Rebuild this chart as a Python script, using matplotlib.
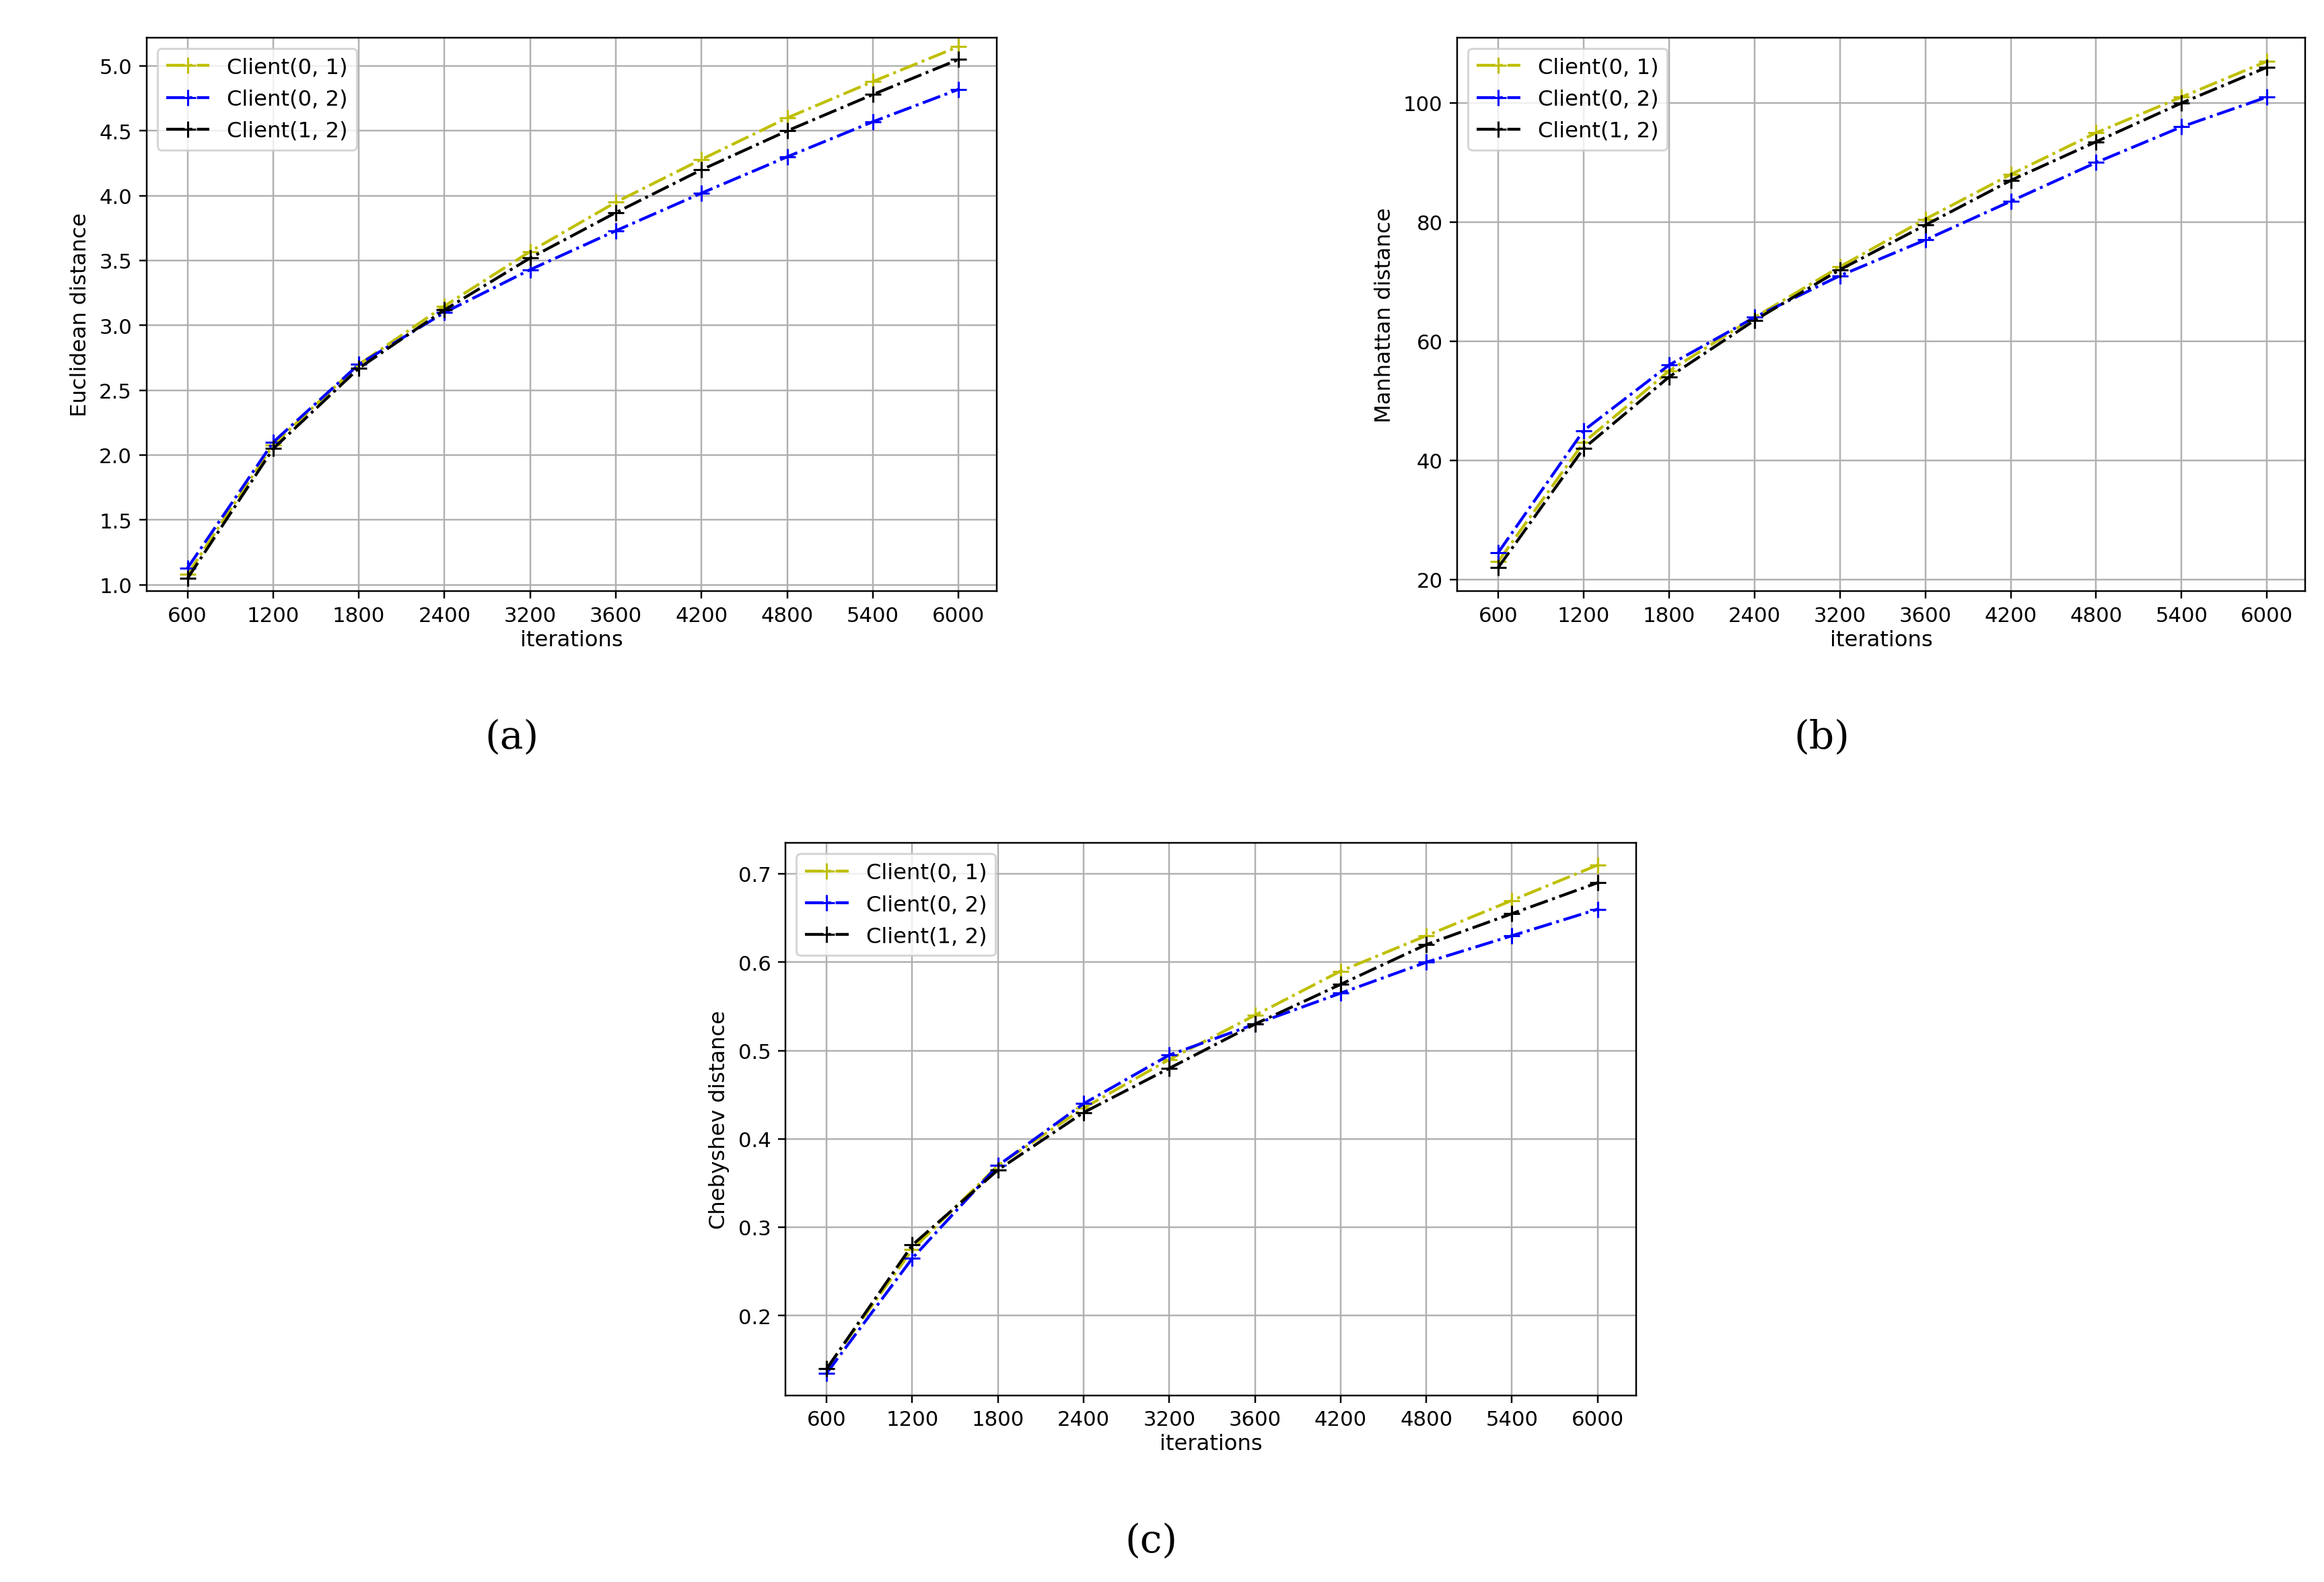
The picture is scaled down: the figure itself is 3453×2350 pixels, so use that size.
import matplotlib
matplotlib.use("Agg")
import matplotlib.pyplot as plt

iters = [600,1200,1800,2400,3200,3600,4200,4800,5400,6000]
xpos = list(range(10))

euc01 = [1.08,2.08,2.70,3.15,3.57,3.95,4.28,4.60,4.88,5.15]
euc02 = [1.13,2.10,2.70,3.10,3.43,3.73,4.02,4.30,4.57,4.82]
euc12 = [1.05,2.05,2.67,3.12,3.52,3.87,4.20,4.50,4.78,5.05]
man01 = [23,43,55,64,72.5,80.5,88,95,101,107]
man02 = [24.5,45,56,64,71,77,83.5,90,96,101]
man12 = [22,42,54,63.5,72,79.5,87,93.5,100,106]
che01 = [0.14,0.275,0.37,0.435,0.49,0.54,0.59,0.63,0.67,0.71]
che02 = [0.135,0.265,0.37,0.44,0.495,0.53,0.565,0.60,0.63,0.66]
che12 = [0.14,0.28,0.365,0.43,0.48,0.53,0.575,0.62,0.655,0.69]

labels = ["Client(0, 1)","Client(0, 2)","Client(1, 2)"]
colors = ["y","b","k"]

fig = plt.figure(figsize=(15.6,10.62), dpi=221.35)
rects = [[0.063,0.626,0.366,0.350],[0.627,0.626,0.365,0.350],[0.338,0.118,0.366,0.349]]
data = [(euc01,euc02,euc12,"Euclidean distance",[1.0,1.5,2.0,2.5,3.0,3.5,4.0,4.5,5.0],(0.95,5.22),"{:.1f}"),
        (man01,man02,man12,"Manhattan distance",[20,40,60,80,100],(18,111),"{:.0f}"),
        (che01,che02,che12,"Chebyshev distance",[0.2,0.3,0.4,0.5,0.6,0.7],(0.11,0.735),"{:.1f}")]
tags = ["(a)","(b)","(c)"]
for r,(s1,s2,s3,yl,yt,ylim,fmt),tag in zip(rects,data,tags):
    ax = fig.add_axes(r)
    for s,c,l in zip((s1,s2,s3),colors,labels):
        ax.plot(xpos,s,linestyle="-.",marker="+",color=c,label=l,markersize=8,linewidth=1.4)
    ax.set_xticks(xpos)
    ax.set_xticklabels([str(i) for i in iters])
    ax.set_yticks(yt)
    ax.set_yticklabels([fmt.format(v) for v in yt])
    ax.set_ylim(*ylim)
    ax.set_xlim(-0.48,9.45)
    ax.grid(True,color="#b0b0b0",linewidth=0.8)
    ax.tick_params(labelsize=10)
    ax.set_xlabel("iterations",fontsize=10.5,labelpad=2)
    ax.set_ylabel(yl,fontsize=10.5)
    ax.legend(loc="upper left",fontsize=10.5)
    cx = r[0]+r[2]*0.43
    fig.text(cx,r[1]-0.092,tag,ha="center",va="center",fontsize=19,family="DejaVu Serif")
fig.savefig("out.png",dpi=221.35,facecolor="white")
